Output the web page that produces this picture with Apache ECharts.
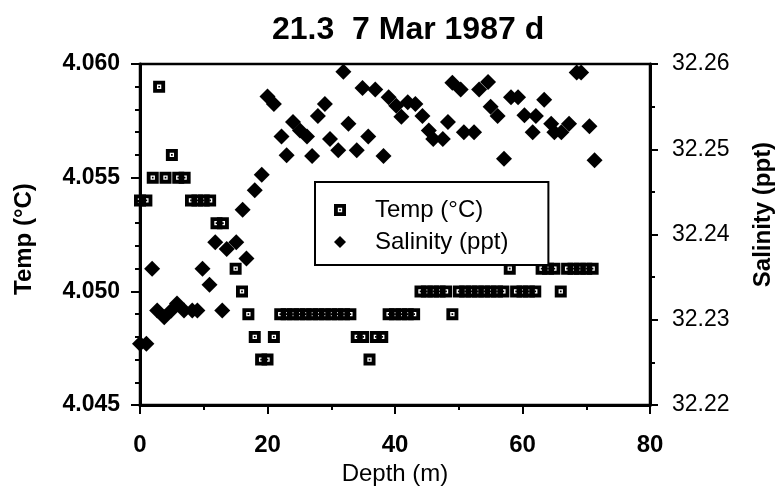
<!DOCTYPE html>
<html>
<head>
<meta charset="utf-8">
<script src="https://cdn.jsdelivr.net/npm/echarts@6/dist/echarts.min.js"></script>
<style>
html,body{margin:0;padding:0;background:#fff;}
#c{width:783px;height:491px;}
</style>
</head>
<body>
<div id="c"></div>
<script>
var titleText = '21.3  7 Mar 1987 d';
var xTicks = [0, 20, 40, 60, 80];
var tempTicks = ['4.045', '4.050', '4.055', '4.060'];
var salTicks = ['32.22', '32.23', '32.24', '32.25', '32.26'];

var tempDepth = [0, 1, 2, 3, 4, 5, 6, 7, 8, 9, 10, 11, 12, 13, 15, 16, 17, 18, 19, 20, 21,
  22, 23, 24, 25, 26, 27, 28, 29, 30, 31, 32, 33, 34, 35, 36, 37, 38,
  39, 40, 41, 42, 43, 44, 45, 46, 47, 48, 49, 50, 51, 52, 53, 54, 55, 56, 57, 58,
  59, 60, 61, 62, 63, 64, 65, 66, 67, 68, 69, 70, 71];
var tempValue = [4.054, 4.054, 4.055, 4.059, 4.055, 4.056, 4.055, 4.055, 4.054, 4.054, 4.054, 4.054, 4.053, 4.053, 4.051, 4.050, 4.049, 4.048, 4.047, 4.047, 4.048,
  4.049, 4.049, 4.049, 4.049, 4.049, 4.049, 4.049, 4.049, 4.049, 4.049, 4.049, 4.049, 4.048, 4.048, 4.047, 4.048, 4.048,
  4.049, 4.049, 4.049, 4.049, 4.049, 4.050, 4.050, 4.050, 4.050, 4.050, 4.049, 4.050, 4.050, 4.050, 4.050, 4.050, 4.050, 4.050, 4.050, 4.051,
  4.050, 4.050, 4.050, 4.050, 4.051, 4.051, 4.051, 4.050, 4.051, 4.051, 4.051, 4.051, 4.051];

var salDepth = [0, 1, 1.9, 2.7, 3.8, 4.9, 5.8, 6.9, 8.2, 9.0, 9.8, 10.9, 11.8, 12.9, 13.6, 15.1, 16.1, 16.7, 18.0, 19.1,
  20.0, 21.0, 22.2, 23.0, 24.0, 25.1, 26.2, 27.0, 27.9, 29.0, 29.8, 31.1, 31.9, 32.7, 34.0, 34.9, 35.8, 36.9, 38.2,
  39.0, 40.2, 41.0, 42.0, 43.2, 44.3, 45.3, 46.0, 47.5, 48.3, 49.0, 50.3, 50.8, 52.4, 53.2, 54.6, 55.0, 56.1, 57.1,
  58.2, 59.3, 60.3, 61.6, 62.1, 63.4, 64.5, 65.0, 66.1, 67.3, 68.5, 69.2, 70.5, 71.3];
var salValue = [32.2272, 32.2272, 32.2360, 32.2311, 32.2303, 32.2311, 32.2319, 32.2311, 32.2311, 32.2311, 32.2360, 32.2341, 32.2391, 32.2311, 32.2383, 32.2391, 32.2429, 32.2372, 32.2452, 32.2470,
  32.2562, 32.2553, 32.2515, 32.2493, 32.2532, 32.2522, 32.2515, 32.2492, 32.2539, 32.2553, 32.2512, 32.2499, 32.2591, 32.2530, 32.2499, 32.2572, 32.2515, 32.2570, 32.2492,
  32.2561, 32.2551, 32.2538, 32.2555, 32.2553, 32.2539, 32.2522, 32.2512, 32.2512, 32.2532, 32.2578, 32.2570, 32.2520, 32.2520, 32.2570, 32.2579, 32.2550, 32.2539, 32.2489,
  32.2561, 32.2561, 32.2540, 32.2520, 32.2539, 32.2558, 32.2530, 32.2520, 32.2520, 32.2530, 32.2590, 32.2590, 32.2527, 32.2487];

var tempData = tempDepth.map(function (d, i) { return [d, tempValue[i]]; });
var salData = salDepth.map(function (d, i) { return [d, salValue[i]]; });

var sqPath = 'path://M0,0 H10 V10 H0 Z M3.2,3.2 V6.8 H6.8 V3.2 Z M4.3,4.3 H5.7 V5.7 H4.3 Z';
var font = 'Liberation Sans, Arial, Helvetica, sans-serif';

var chart = echarts.init(document.getElementById('c'), null, {renderer: 'canvas'});
chart.setOption({
  backgroundColor: '#fff',
  animation: false,
  textStyle: {fontFamily: font, color: '#000'},
  title: {
    text: titleText,
    left: 267,
    top: 9,
    textStyle: {fontFamily: font, fontSize: 32, fontWeight: 'bold', color: '#000'}
  },
  grid: {
    left: 140, right: 133, top: 64, bottom: 79,
    show: true, borderColor: '#000', borderWidth: 2.5, backgroundColor: 'transparent'
  },
  legend: {
    orient: 'vertical',
    left: 315,
    top: 182,
    padding: [15, 40, 10, 19],
    itemGap: 6,
    itemWidth: 12,
    itemHeight: 12,
    borderColor: '#000',
    borderWidth: 2,
    backgroundColor: '#fff',
    textStyle: {fontFamily: font, fontSize: 24, color: '#000', lineHeight: 26, padding: [0, 0, 0, 24]},
    data: [
      {name: 'Temp (°C)', icon: sqPath},
      {name: 'Salinity (ppt)', icon: 'diamond'}
    ]
  },
  xAxis: {
    type: 'value',
    min: xTicks[0], max: xTicks[xTicks.length - 1], interval: 20,
    name: 'Depth (m)',
    nameLocation: 'middle',
    nameGap: 55,
    nameTextStyle: {fontFamily: font, fontSize: 24, color: '#000'},
    axisLine: {show: true, onZero: false, lineStyle: {color: '#000', width: 3}},
    axisTick: {show: true, inside: false, length: 9, lineStyle: {color: '#000', width: 2}},
    minorTick: {show: true, splitNumber: 2, length: 5, lineStyle: {color: '#000', width: 2}},
    splitLine: {show: false},
    axisLabel: {margin: 28, fontFamily: font, fontSize: 24, fontWeight: 'bold', color: '#000'}
  },
  yAxis: [{
    type: 'value',
    position: 'left',
    min: 4.045, max: 4.060, interval: 0.005,
    name: 'Temp (°C)',
    nameLocation: 'middle',
    nameRotate: 90,
    nameGap: 104,
    nameTextStyle: {fontFamily: font, fontSize: 24, fontWeight: 'bold', color: '#000', padding: [0, 9, 0, 0]},
    axisLine: {show: true, onZero: false, lineStyle: {color: '#000', width: 3}},
    axisTick: {show: true, inside: false, length: 9, lineStyle: {color: '#000', width: 2}},
    minorTick: {show: true, splitNumber: 5, length: 5, lineStyle: {color: '#000', width: 2}},
    splitLine: {show: false},
    axisLabel: {
      margin: 20, fontFamily: font, fontSize: 23, fontWeight: 'bold', color: '#000',
      formatter: function (v) {
        var s = v.toFixed(3);
        return tempTicks.indexOf(s) >= 0 ? s : '';
      }
    }
  }, {
    type: 'value',
    position: 'right',
    min: 32.22, max: 32.26, interval: 0.01,
    name: 'Salinity (ppt)',
    nameLocation: 'middle',
    nameRotate: 90,
    nameGap: 101,
    nameTextStyle: {fontFamily: font, fontSize: 24, fontWeight: 'bold', color: '#000', padding: [0, 0, 0, 40]},
    axisLine: {show: true, onZero: false, lineStyle: {color: '#000', width: 3}},
    axisTick: {show: true, inside: false, length: 8, lineStyle: {color: '#000', width: 2}},
    minorTick: {show: true, splitNumber: 2, length: 5, lineStyle: {color: '#000', width: 2}},
    splitLine: {show: false},
    axisLabel: {
      margin: 22, fontFamily: font, fontSize: 23, color: '#000',
      formatter: function (v) {
        var s = v.toFixed(2);
        return salTicks.indexOf(s) >= 0 ? s : '';
      }
    }
  }],
  series: [{
    name: 'Temp (°C)',
    type: 'scatter',
    yAxisIndex: 0,
    symbol: sqPath,
    symbolSize: 12,
    itemStyle: {color: '#000', opacity: 1},
    data: tempData,
    z: 3
  }, {
    name: 'Salinity (ppt)',
    type: 'scatter',
    yAxisIndex: 1,
    symbol: 'diamond',
    symbolSize: 16,
    itemStyle: {color: '#000', opacity: 1},
    data: salData,
    z: 4
  }]
});
</script>
</body>
</html>
